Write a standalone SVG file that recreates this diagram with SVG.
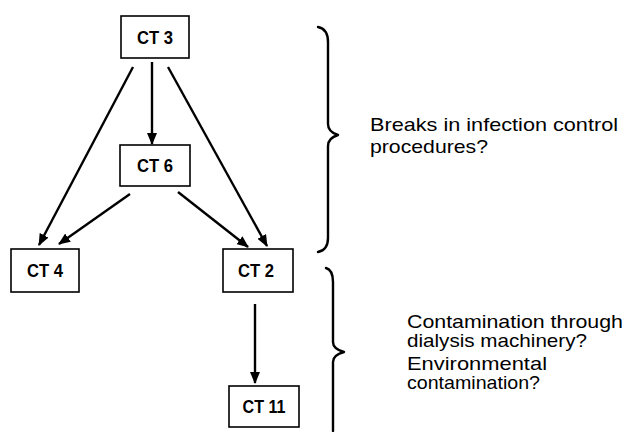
<svg xmlns="http://www.w3.org/2000/svg" width="625" height="432" viewBox="0 0 625 432">
  <defs>
    <marker id="ah" markerUnits="userSpaceOnUse" markerWidth="12" markerHeight="10" refX="11" refY="5" orient="auto">
      <path d="M0,0 L12,5 L0,10 Z" fill="#000"/>
    </marker>
    <style>
      .box{fill:#fff;stroke:#000;stroke-width:1.6}
      .lbl{font-family:"Liberation Sans",Arial,sans-serif;font-weight:bold;font-size:18px;fill:#000;text-anchor:middle}
      .edge{stroke:#000;stroke-width:2.4;fill:none;marker-end:url(#ah)}
      .brace{stroke:#000;stroke-width:2.4;fill:none;stroke-linecap:round;stroke-linejoin:round}
      .note{font-family:"Liberation Sans",Arial,sans-serif;font-size:19px;fill:#000}
    </style>
  </defs>
  <rect width="625" height="432" fill="#fff"/>

  <g id="connectors">
    <line class="edge" x1="152" y1="62" x2="152" y2="144"/>
    <line class="edge" x1="133" y1="67" x2="39" y2="245"/>
    <line class="edge" x1="168" y1="67" x2="267" y2="246"/>
    <line class="edge" x1="130" y1="194" x2="59" y2="244"/>
    <line class="edge" x1="178" y1="192" x2="248" y2="247"/>
    <line class="edge" x1="255" y1="304" x2="255" y2="383"/>
  </g>

  <g id="CT3">
    <rect class="box" x="121" y="16" width="68" height="42"/>
    <text class="lbl" x="155" y="44" textLength="36" lengthAdjust="spacingAndGlyphs">CT 3</text>
  </g>
  <g id="CT6">
    <rect class="box" x="120" y="145" width="70" height="41"/>
    <text class="lbl" x="155" y="172" textLength="36" lengthAdjust="spacingAndGlyphs">CT 6</text>
  </g>
  <g id="CT4">
    <rect class="box" x="11" y="249" width="68" height="43"/>
    <text class="lbl" x="45" y="277" textLength="36" lengthAdjust="spacingAndGlyphs">CT 4</text>
  </g>
  <g id="CT2">
    <rect class="box" x="223" y="249" width="70" height="43"/>
    <text class="lbl" x="256" y="277" textLength="36" lengthAdjust="spacingAndGlyphs">CT 2</text>
  </g>
  <g id="CT11">
    <rect class="box" x="229" y="386" width="70" height="41"/>
    <text class="lbl" x="264" y="413" textLength="43" lengthAdjust="spacingAndGlyphs">CT 11</text>
  </g>

  <g id="brace1">
    <path class="brace" d="M318,27 Q328,29 328,42 L328,124 Q328,132 338,135 Q328,138 328,146 L328,238 Q328,250 318,252"/>
  </g>
  <g id="brace2">
    <path class="brace" d="M326,268 Q333,270 333,282 L333,342 Q333,349 344,352 Q333,355 333,362 L333,431"/>
  </g>

  <g id="note1">
    <text class="note" x="370" y="131" textLength="248" lengthAdjust="spacingAndGlyphs">Breaks in infection control</text>
    <text class="note" x="370" y="153" textLength="118" lengthAdjust="spacingAndGlyphs">procedures?</text>
  </g>
  <g id="note2">
    <text class="note" x="407" y="328" textLength="216" lengthAdjust="spacingAndGlyphs">Contamination through</text>
    <text class="note" x="407" y="347" textLength="180" lengthAdjust="spacingAndGlyphs">dialysis machinery?</text>
    <text class="note" x="407" y="370" textLength="140" lengthAdjust="spacingAndGlyphs">Environmental</text>
    <text class="note" x="407" y="389" textLength="133" lengthAdjust="spacingAndGlyphs">contamination?</text>
  </g>
</svg>
